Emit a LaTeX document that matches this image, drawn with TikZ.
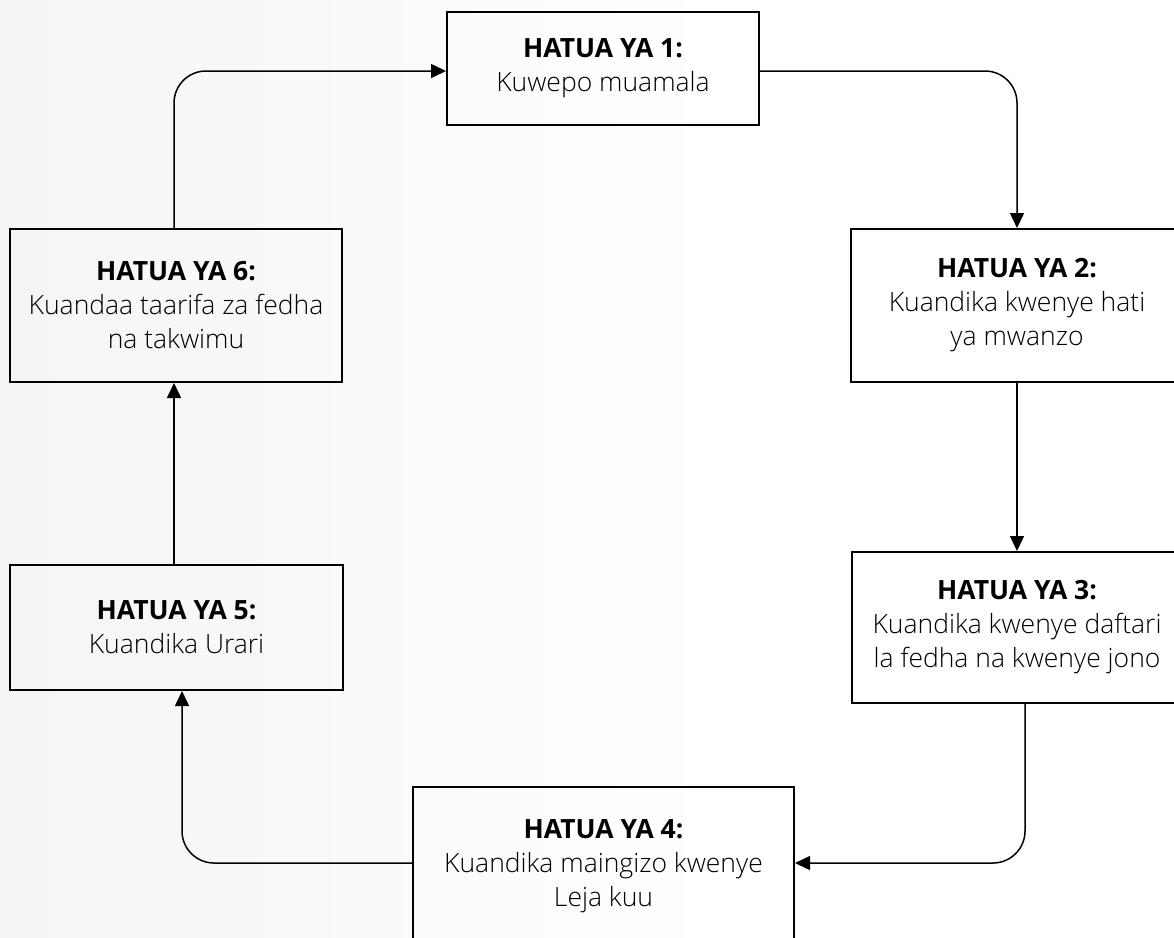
\documentclass[tikz,border=0pt]{standalone}
\usepackage{fontspec}
\setmainfont{Open Sans Light}[BoldFont={Open Sans Bold}]
\usetikzlibrary{arrows.meta}
\tikzset{
  stepbox/.style={draw=black, line width=2pt, rectangle, align=center, inner sep=0pt,
    font=\fontsize{26.5}{34}\selectfont},
  conn/.style={draw=black, line width=1.5pt, rounded corners=32pt,
    -{Triangle[length=15pt,width=14pt]}}
}
\begin{document}
\begin{tikzpicture}[x=1pt,y=-1pt]
\useasboundingbox (0,0) rectangle (1174,937);
\shade[left color=black!4, right color=white] (0,0) rectangle (720,937);
\node[stepbox, minimum width=312pt, minimum height=113pt] (b1) at (603,68.5) {\textbf{HATUA YA 1:}\\Kuwepo muamala};
\node[stepbox, minimum width=332pt, minimum height=153pt] (b2) at (1017,305.5) {\textbf{HATUA YA 2:}\\Kuandika kwenye hati\\ya mwanzo};
\node[stepbox, minimum width=330pt, minimum height=151pt] (b3) at (1017,627.5) {\textbf{HATUA YA 3:}\\Kuandika kwenye daftari\\la fedha na kwenye jono};
\node[stepbox, minimum width=381pt, minimum height=158pt] (b4) at (603.5,866) {\textbf{HATUA YA 4:}\\Kuandika maingizo kwenye\\Leja kuu};
\node[stepbox, minimum width=333pt, minimum height=125pt] (b5) at (176.5,627.5) {\textbf{HATUA YA 5:}\\Kuandika Urari};
\node[stepbox, minimum width=332pt, minimum height=153pt] (b6) at (176,305.5) {\textbf{HATUA YA 6:}\\Kuandaa taarifa za fedha\\na takwimu};
\draw[conn] ([xshift=-2pt]b6.north) |- ([yshift=-2.5pt]b1.west);
\draw[conn] ([yshift=-2.5pt]b1.east) -| (b2.north);
\draw[conn] (b2.south) -- (b2.south |- b3.north);
\draw[conn] ([xshift=8pt]b3.south) |- ([yshift=3pt]b4.east);
\draw[conn] ([yshift=3pt]b4.west) -| ([xshift=5.5pt]b5.south);
\draw[conn] ([xshift=-2.5pt]b5.north) -- ([xshift=-2pt]b6.south);
\end{tikzpicture}
\end{document}
